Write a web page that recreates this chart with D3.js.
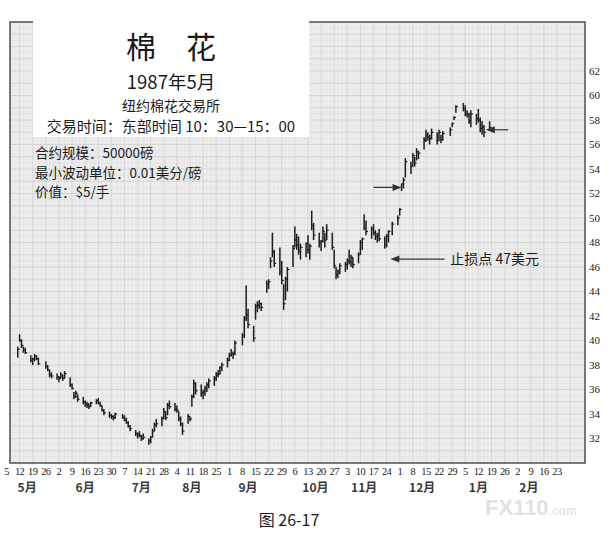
<!DOCTYPE html>
<html>
<head>
<meta charset="utf-8">
<script src="https://cdn.jsdelivr.net/npm/d3@7"></script>
<style>
  body { margin: 0; background: #fff; }
  text { fill: #1a1a1a; }
</style>
</head>
<body>
<svg id="chart" width="609" height="544"></svg>
<script>
// cotton daily bars, May 1987 - Jan 1988
var firstDay = "1987-05-11";
var holidays = ["1987-05-25", "1987-07-03", "1987-09-07", "1987-11-26", "1987-12-25", "1988-01-01"];

var highs = [
  39.5, 40.5, 40.1, 39.5, 39.4,   38.8, 38.6, 38.9, 38.8, 38.6,   38.3, 38.0, 37.6, 37.4,
  37.3, 37.1, 37.4, 37.2, 37.5,   37.0, 36.5, 35.8, 35.9, 35.6,   35.4, 35.1, 35.0, 34.9, 35.0,
  35.2, 35.3, 35.0, 34.7, 34.4,   34.2, 34.0, 33.9, 34.1,
  34.0, 33.9, 33.7, 33.4, 33.1,   32.7, 32.5, 32.6, 32.3, 32.4,   32.0, 32.2, 32.8, 33.3, 33.6,
  33.8, 34.5, 34.2, 34.9, 35.1,
  34.9, 34.7, 34.2, 33.8, 33.3,   34.0, 33.8, 35.6, 36.8, 36.6,   36.4, 36.0, 36.3, 36.6, 36.9,
  37.1, 37.4, 37.6, 37.9, 38.2,
  38.6, 39.0, 39.3, 39.1, 40.0,   40.6, 42.0, 44.5, 42.6,   41.2, 43.0, 43.2, 43.3, 43.1,
  44.9, 45.0, 46.8, 48.8, 47.4,   47.6, 46.5, 44.6, 45.2, 46.0,
  47.8, 49.3, 48.7, 48.5, 47.9,   48.0, 48.6, 47.9, 50.6, 49.6,   48.8, 48.2, 49.3, 48.8, 49.5,
  48.8, 47.4, 46.0, 45.8, 46.3,
  46.4, 46.7, 47.4, 47.0, 46.8,   47.2, 48.2, 48.4, 50.3, 49.8,   49.3, 49.5, 49.0, 48.8, 49.1,
  48.5, 48.7, 49.0, 49.7,
  50.2, 50.8, 52.8, 53.3, 54.9,   54.6, 55.3, 55.0, 55.7, 55.5,   56.6, 57.2, 57.0, 56.8, 57.3,
  57.0, 57.2, 56.8, 57.1,   57.4, 57.8, 58.3, 59.2,
  59.4, 59.2, 58.8, 58.6, 58.8,   58.5, 58.9, 58.2, 57.9, 57.6,   57.9
];
var lows = [
  38.6, 39.9, 39.4, 39.0, 38.9,   38.2, 38.0, 38.3, 38.4, 38.0,   37.7, 37.5, 37.0, 36.9,
  36.8, 36.6, 36.9, 36.7, 36.9,   36.2, 36.0, 35.2, 35.3, 35.0,   34.8, 34.6, 34.5, 34.4, 34.6,
  34.8, 34.8, 34.6, 34.2, 33.9,   33.7, 33.6, 33.5, 33.6,
  33.6, 33.4, 33.2, 32.9, 32.6,   32.2, 32.0, 32.1, 31.8, 31.9,   31.5, 31.6, 32.1, 32.6, 32.9,
  33.0, 33.6, 33.5, 33.9, 34.4,
  34.2, 34.1, 33.4, 33.0, 32.3,   33.2, 33.4, 34.6, 35.3, 35.6,   35.4, 35.2, 35.5, 35.8, 36.1,
  36.3, 36.7, 37.0, 37.2, 37.5,
  37.8, 38.3, 38.7, 38.5, 38.8,   39.6, 40.2, 41.6, 41.0,   39.9, 41.7, 42.3, 42.6, 42.4,
  43.9, 44.2, 45.9, 46.8, 46.0,   45.3, 44.6, 42.5, 43.3, 44.0,
  46.0, 47.6, 47.4, 47.0, 46.6,   46.8, 47.1, 46.6, 49.0, 48.2,   47.6, 47.3, 48.0, 47.6, 48.2,
  47.4, 45.9, 45.0, 45.1, 45.4,
  45.6, 45.8, 46.2, 46.0, 45.9,   46.3, 47.0, 47.4, 49.0, 48.6,   48.3, 48.6, 48.2, 48.0, 48.1,
  47.5, 47.6, 48.0, 48.6,
  49.4, 50.2, 52.2, 52.4, 53.3,   53.6, 54.2, 54.2, 54.7, 54.8,   55.6, 56.2, 56.3, 56.0, 56.4,
  56.0, 56.3, 56.1, 56.3,   56.7, 57.4, 58.0, 58.6,
  58.7, 58.3, 58.2, 57.7, 57.4,   57.6, 57.8, 57.0, 56.8, 56.6,   57.1
];
var closes = [
  39.3, 40.0, 39.6, 39.2, 39.0,   38.4, 38.5, 38.7, 38.5, 38.1,   37.9, 37.6, 37.2, 37.1,
  37.0, 36.9, 37.2, 36.9, 37.3,   36.4, 36.1, 35.4, 35.7, 35.2,   35.0, 34.8, 34.7, 34.6, 34.9,
  35.1, 34.9, 34.7, 34.3, 34.1,   33.9, 33.8, 33.7, 34.0,
  33.7, 33.5, 33.3, 33.0, 32.8,   32.4, 32.3, 32.2, 32.0, 32.1,   31.8, 32.1, 32.6, 33.1, 33.2,
  33.6, 34.2, 33.7, 34.7, 34.6,
  34.4, 34.3, 33.6, 33.2, 32.6,   33.8, 33.6, 35.4, 36.5, 35.9,   35.7, 35.8, 36.1, 36.4, 36.7,
  36.9, 37.2, 37.3, 37.8, 38.0,
  38.4, 38.8, 38.9, 38.9, 39.8,   40.4, 41.8, 42.1, 41.3,   40.2, 42.8, 42.9, 43.0, 42.7,
  44.6, 44.8, 46.5, 47.2, 46.3,   45.6, 44.9, 43.0, 45.0, 45.8,
  47.5, 48.2, 47.8, 47.3, 47.6,   47.9, 47.4, 47.7, 49.4, 48.6,   48.0, 48.1, 48.9, 48.2, 49.0,
  47.6, 46.1, 45.4, 45.6, 46.1,
  46.2, 46.5, 46.4, 46.8, 46.2,   47.0, 48.0, 48.3, 49.2, 48.9,   49.1, 48.8, 48.5, 48.6, 48.3,
  47.8, 48.5, 48.9, 49.5,
  50.0, 50.7, 52.8, 53.1, 54.6,   54.2, 55.1, 54.5, 55.4, 55.3,   56.4, 56.7, 56.6, 56.5, 57.0,
  56.3, 57.0, 56.4, 56.9,   57.2, 57.7, 58.2, 59.1,
  58.9, 58.5, 58.4, 57.9, 58.5,   58.1, 58.0, 57.3, 57.4, 57.0,   57.4
];

var yTicks = [32, 34, 36, 38, 40, 42, 44, 46, 48, 50, 52, 54, 56, 58, 60, 62];
var months = ["5月", "6月", "7月", "8月", "9月", "10月", "11月", "12月", "1月", "2月"];
var monthDates = ["1987-05-16", "1987-06-16", "1987-07-16", "1987-08-12", "1987-09-11",
                  "1987-10-17", "1987-11-12", "1987-12-13", "1988-01-12", "1988-02-08"];

var titleLines = ["纽约棉花交易所", "交易时间：东部时间 10：30—15：00"];
var specLines = ["合约规模：50000磅", "最小波动单位：0.01美分/磅", "价值：$5/手"];

var parse = d3.utcParse("%Y-%m-%d");
var fmt = d3.utcFormat("%Y-%m-%d");

// trading calendar
var holidaySet = new Set(holidays);
var days = [];
var d = parse(firstDay);
while (days.length < highs.length) {
  var wd = d.getUTCDay();
  if (wd !== 0 && wd !== 6 && !holidaySet.has(fmt(d))) days.push(d);
  d = d3.utcDay.offset(d, 1);
}

var plotL = 10, plotR = 585, plotT = 22, plotB = 463;

var x = d3.scaleUtc()
  .domain([parse("1987-05-05"), parse("1988-02-23")])
  .range([6.5, 557]);
var y = d3.scaleLinear().domain([30, 66]).range([plotB, plotT]);

var svg = d3.select("#chart");

// plot background + grid
svg.append("rect")
  .attr("x", plotL).attr("y", plotT)
  .attr("width", plotR - plotL).attr("height", plotB - plotT)
  .style("fill", "#ededed");

var grid = svg.append("g");
var dayLines = d3.utcDay.range(parse("1987-05-06"), parse("1988-03-08"), 2);
grid.selectAll(".vd").data(dayLines.filter(function(t) { return x(t) > plotL && x(t) < plotR; }))
  .enter().append("line")
  .attr("x1", function(t) { return x(t); }).attr("x2", function(t) { return x(t); })
  .attr("y1", plotT).attr("y2", plotB)
  .style("stroke", "#dfdfdf").style("stroke-width", 0.5);

grid.selectAll(".hh").data(d3.range(30.5, 66, 1)).enter().append("line")
  .attr("x1", plotL).attr("x2", plotR)
  .attr("y1", function(v) { return y(v); }).attr("y2", function(v) { return y(v); })
  .style("stroke", "#dddddd").style("stroke-width", 0.5);

var weeks = d3.utcTuesday.range(parse("1987-05-05"), parse("1988-02-24"));
grid.selectAll(".vw").data(weeks.concat([parse("1988-03-01")]).filter(function(t) { return x(t) > plotL; }))
  .enter().append("line")
  .attr("x1", function(t) { return x(t); }).attr("x2", function(t) { return x(t); })
  .attr("y1", plotT).attr("y2", plotB)
  .style("stroke", "#cecece").style("stroke-width", 0.7);

grid.selectAll(".hm").data(d3.range(31, 66, 1)).enter().append("line")
  .attr("x1", plotL).attr("x2", plotR)
  .attr("y1", function(v) { return y(v); }).attr("y2", function(v) { return y(v); })
  .style("stroke", "#cccccc").style("stroke-width", 0.7);

// frame
svg.append("rect")
  .attr("x", plotL).attr("y", plotT)
  .attr("width", plotR - plotL).attr("height", plotB - plotT)
  .style("fill", "none").style("stroke", "#444").style("stroke-width", 1.4);

// price bars
var bars = svg.append("g");
bars.selectAll(".hl").data(days).enter().append("line")
  .attr("x1", function(t) { return x(t); }).attr("x2", function(t) { return x(t); })
  .attr("y1", function(t, i) { return y(highs[i]); })
  .attr("y2", function(t, i) { return y(lows[i]); })
  .style("stroke", "#1c1c1c").style("stroke-width", 1.5);
bars.selectAll(".cl").data(days).enter().append("line")
  .attr("x1", function(t) { return x(t); }).attr("x2", function(t) { return x(t) + 2; })
  .attr("y1", function(t, i) { return y(closes[i]); })
  .attr("y2", function(t, i) { return y(closes[i]); })
  .style("stroke", "#1c1c1c").style("stroke-width", 1.2);

// y axis labels
svg.append("g").selectAll("text").data(yTicks).enter().append("text")
  .attr("x", plotR + 4).attr("y", function(v) { return y(v); })
  .attr("dy", "0.35em")
  .style("font-family", "'Liberation Serif', serif").style("font-size", "11px")
  .text(function(v) { return v; });

// x axis labels
svg.append("g").selectAll("text").data(weeks).enter().append("text")
  .attr("x", function(t) { return x(t); }).attr("y", 475)
  .attr("text-anchor", "middle")
  .style("font-family", "'Liberation Serif', serif").style("font-size", "10.5px")
  .style("letter-spacing", "-0.6px")
  .text(function(t) { return t.getUTCDate(); });

svg.append("g").selectAll("text").data(months).enter().append("text")
  .attr("x", function(m, i) { return x(parse(monthDates[i])); }).attr("y", 492)
  .attr("text-anchor", "middle")
  .style("font-family", "'Noto Sans CJK SC', sans-serif").style("font-size", "12px")
  .style("font-weight", "bold").style("fill", "#3a3a3a")
  .text(function(m) { return m; });

// arrows
function arrow(x1, x2, yy) {
  var dir = x2 > x1 ? 1 : -1;
  svg.append("line")
    .attr("x1", x1).attr("x2", x2 - dir * 6).attr("y1", yy).attr("y2", yy)
    .style("stroke", "#333").style("stroke-width", 1.2);
  svg.append("path")
    .attr("d", "M" + x2 + "," + yy + "L" + (x2 - dir * 9) + "," + (yy - 3.5) +
               "L" + (x2 - dir * 9) + "," + (yy + 3.5) + "Z")
    .style("fill", "#333");
}
arrow(x(parse("1987-11-17")), x(parse("1987-12-02")), y(52.5));
arrow(x(parse("1988-01-28")), x(parse("1988-01-16")), y(57.2));
arrow(x(parse("1987-12-25")), x(parse("1987-11-26")), y(46.65));

svg.append("text")
  .attr("x", x(parse("1987-12-28"))).attr("y", y(46.65)).attr("dy", "0.38em")
  .style("font-family", "'Noto Sans CJK SC', sans-serif").style("font-size", "14px")
  .text("止损点 47美元");

// title box
svg.append("rect")
  .attr("x", 33).attr("y", 0).attr("width", 276).attr("height", 137)
  .style("fill", "#fff");

svg.append("text").attr("x", 171).attr("y", 58).attr("text-anchor", "middle")
  .style("font-family", "'Noto Sans CJK SC', sans-serif").style("font-size", "30px")
  .text("棉\u3000花");
svg.append("text").attr("x", 171).attr("y", 88.5).attr("text-anchor", "middle")
  .style("font-family", "'Noto Sans CJK SC', sans-serif").style("font-size", "18.5px")
  .text("1987年5月");
svg.append("g").selectAll("text").data(titleLines).enter().append("text")
  .attr("x", 171).attr("y", function(s, i) { return i === 0 ? 110.5 : 132; })
  .attr("text-anchor", "middle")
  .style("font-family", "'Noto Sans CJK SC', sans-serif")
  .style("font-size", function(s, i) { return i === 0 ? "14px" : "15px"; })
  .text(function(s) { return s; });

svg.append("g").selectAll("text").data(specLines).enter().append("text")
  .attr("x", 35).attr("y", function(s, i) { return 158 + i * 19.6; })
  .style("font-family", "'Noto Sans CJK SC', sans-serif").style("font-size", "13.5px")
  .text(function(s) { return s; });

// caption + watermark
svg.append("text").attr("x", 289).attr("y", 526).attr("text-anchor", "middle")
  .style("font-family", "'Noto Sans CJK SC', sans-serif").style("font-size", "16px")
  .text("图 26-17");

var wm = svg.append("text").attr("x", 485).attr("y", 515)
  .style("font-family", "'Liberation Sans', sans-serif").style("font-weight", "bold");
wm.append("tspan").style("font-size", "22px").style("fill", "#e2e2e2").text("FX110");
wm.append("tspan").style("font-size", "12px").style("fill", "#e6e6e6").text(".com");
</script>
</body>
</html>
